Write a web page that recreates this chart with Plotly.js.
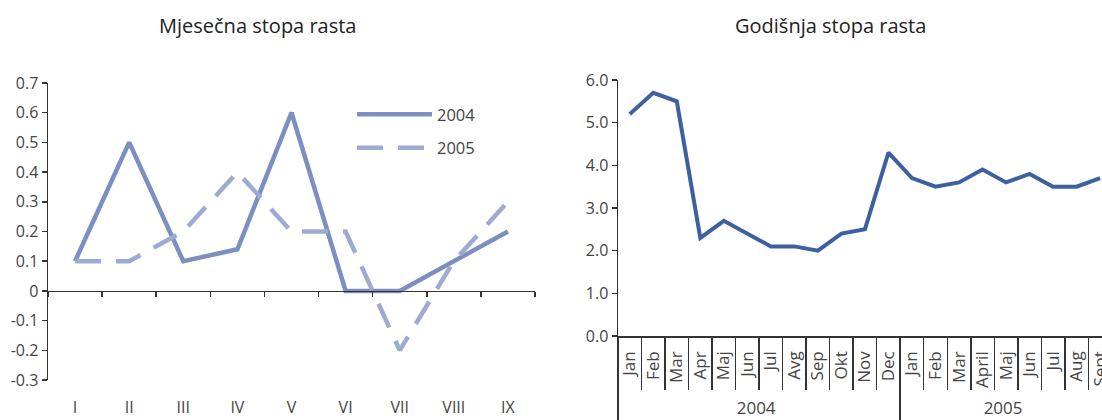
<!DOCTYPE html>
<html><head><meta charset="utf-8">
<script src="https://cdn.plot.ly/plotly-3.0.1.min.js"></script>
<style>html,body{margin:0;padding:0;background:#fff}#chart{width:1102px;height:420px}</style>
</head><body><div id="chart"></div>
<script>
// ---- data ----
const chartTitles = ['Mjesečna stopa rasta', 'Godišnja stopa rasta'];
const monthsRoman = ['I','II','III','IV','V','VI','VII','VIII','IX'];
const seriesNames = ['2004', '2005'];
const monthly2004 = [0.1, 0.5, 0.1, 0.14, 0.6, 0, 0, 0.1, 0.2];
const monthly2005 = [0.1, 0.1, 0.2, 0.4, 0.2, 0.2, -0.2, 0.1, 0.3];
const leftYTickVals = [-0.3,-0.2,-0.1,0,0.1,0.2,0.3,0.4,0.5,0.6,0.7];
const leftYTickText = ['-0.3','-0.2','-0.1','0','0.1','0.2','0.3','0.4','0.5','0.6','0.7'];
const annualYears = ['2004','2004','2004','2004','2004','2004','2004','2004','2004','2004','2004','2004',
                     '2005','2005','2005','2005','2005','2005','2005','2005','2005'];
const annualMonths = ['Jan','Feb','Mar','Apr','Maj','Jun','Jul','Avg','Sep','Okt','Nov','Dec',
                      'Jan','Feb','Mar','April','Maj','Jun','Jul','Aug','Sept'];
const annualRate = [5.2, 5.7, 5.5, 2.3, 2.7, 2.4, 2.1, 2.1, 2.0, 2.4, 2.5, 4.3,
                    3.7, 3.5, 3.6, 3.9, 3.6, 3.8, 3.5, 3.5, 3.7];

// month names repeat across years; a zero-width space keeps each year's months distinct
// so the multicategory axis keeps them in the given order
const annualMonthKeys = annualMonths.map((m, i) => annualYears[i] === annualYears[0] ? m : m + '\u200b');

// ---- styles ----
const FONT = 'Open Sans, Noto Sans, sans-serif';
const TXT = '#444444';
const AX = '#333333';

const traces = [
  {x: monthsRoman, y: monthly2004, name: seriesNames[0], type: 'scatter', mode: 'lines',
   xaxis: 'x', yaxis: 'y', legendgroup: 'a',
   line: {color: '#7d8fc0', width: 4.5}},
  {x: monthsRoman, y: monthly2005, name: seriesNames[1], type: 'scatter', mode: 'lines',
   xaxis: 'x2', yaxis: 'y', legendgroup: 'b',
   line: {color: '#9dabd2', width: 4.5, dash: '26px,15px'}},
  {x: [annualYears, annualMonthKeys], y: annualRate, type: 'scatter', mode: 'lines',
   xaxis: 'x3', yaxis: 'y2', showlegend: false, cliponaxis: false,
   line: {color: '#3d619f', width: 4}}
];

const lx = [48/1102, 535/1102];
const ly = [(420-380)/420, (420-83)/420];
const zeroPos = ly[0] + 0.3 * (ly[1] - ly[0]);

const layout = {
  width: 1102, height: 420,
  margin: {l: 0, r: 0, t: 0, b: 0},
  paper_bgcolor: '#fff', plot_bgcolor: 'rgba(0,0,0,0)',
  font: {family: FONT, color: TXT, size: 16},
  showlegend: true,
  legend: {x: 352/1102, y: (420-97)/420, xanchor: 'left', yanchor: 'top',
           font: {size: 16.5, color: TXT}, itemwidth: 75, traceorder: 'grouped',
           tracegroupgap: 9, bgcolor: 'rgba(0,0,0,0)'},
  xaxis: {type: 'category', domain: lx, anchor: 'free', position: zeroPos,
          range: [-0.5, 8.5], categoryarray: monthsRoman, categoryorder: 'array',
          showline: true, linecolor: AX, linewidth: 1.5, ticks: 'outside', tickson: 'boundaries',
          ticklen: 5, tickwidth: 1.5, tickcolor: AX, showticklabels: false,
          showgrid: false, zeroline: false, fixedrange: true},
  xaxis2: {type: 'category', overlaying: 'x', anchor: 'y', side: 'bottom',
           range: [-0.5, 8.5], categoryarray: monthsRoman, categoryorder: 'array',
           showline: false, ticks: '', showticklabels: true, ticklabelstandoff: 16,
           tickfont: {size: 16, color: TXT}, showgrid: false, zeroline: false},
  yaxis: {domain: ly, anchor: 'x', range: [-0.3, 0.7], tickvals: leftYTickVals, ticktext: leftYTickText,
          showline: true, linecolor: AX, linewidth: 1.5, ticks: 'outside', ticklen: 5, tickwidth: 1.5,
          tickcolor: AX, showgrid: false, zeroline: false, tickfont: {size: 16, color: TXT}},
  xaxis3: {type: 'multicategory', domain: [618/1102, 1], anchor: 'y2', range: [-0.5, 20.08],
           showline: true, linecolor: AX, linewidth: 1.5, ticks: 'outside', ticklen: 52,
           tickwidth: 1.5, tickcolor: AX, tickangle: -90, ticklabelstandoff: 7,
           showdividers: true, dividercolor: AX, dividerwidth: 1.5,
           tickfont: {size: 17, color: TXT}, showgrid: false, zeroline: false},
  yaxis2: {domain: [(420-336)/420, (420-80)/420], anchor: 'x3', range: [0, 6], dtick: 1,
           tickformat: '.1f', showline: true, linecolor: AX, linewidth: 1.5, ticks: 'outside',
           ticklen: 5, tickwidth: 1.5, tickcolor: AX, showgrid: false, zeroline: false,
           tickfont: {size: 16, color: TXT}},
  annotations: [
    {text: chartTitles[0], xref: 'paper', yref: 'paper', x: 257/1102, y: (420-25)/420,
     xanchor: 'center', yanchor: 'middle', showarrow: false, font: {size: 20, color: '#222'}},
    {text: chartTitles[1], xref: 'paper', yref: 'paper', x: 830/1102, y: (420-25)/420,
     xanchor: 'center', yanchor: 'middle', showarrow: false, font: {size: 20, color: '#222'}}
  ]
};

Plotly.newPlot('chart', traces, layout, {displayModeBar: false, staticPlot: true});
</script>
</body></html>
